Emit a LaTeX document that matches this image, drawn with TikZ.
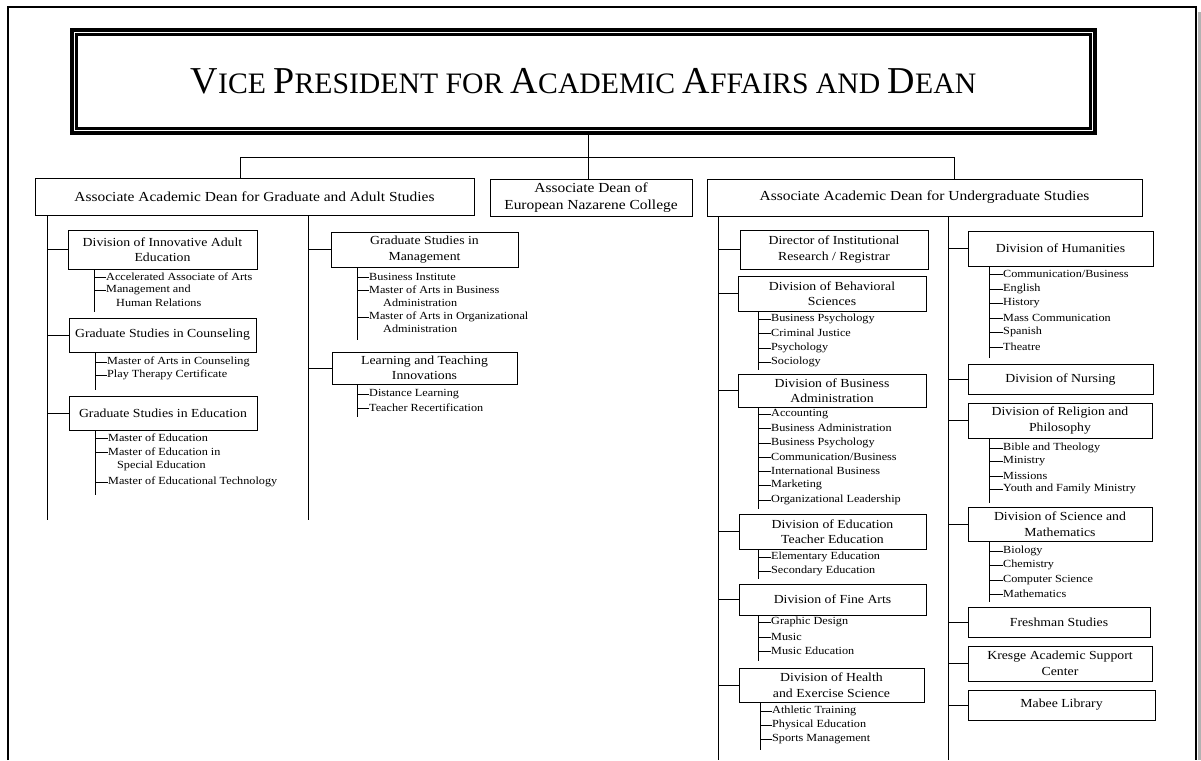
\documentclass[tikz,border=0pt]{standalone}
\usepackage{fontspec}
\setmainfont{Liberation Serif}[FakeStretch=1.12]
\newfontfamily\titlefont{Liberation Serif}
\newcommand\tcap[2]{{\fontsize{38}{38}\selectfont #1}{\fontsize{29.7}{30}\selectfont #2}}
\newcommand\putitem[4]{\node[itm] (#1) at (#2) {#3}; \draw[ln] (#1.west) -- (#1.west -| #4);}
\begin{document}
\begin{tikzpicture}[x=1pt,y=-1pt,
  box/.style={draw, line width=1pt, inner sep=0pt, align=center},
  toptwo/.style={box, font=\fontsize{13.8}{17}\selectfont},
  dv/.style={box, font=\fontsize{12.3}{15.5}\selectfont},
  itm/.style={anchor=west, inner sep=0pt, font=\fontsize{10.9}{12}\selectfont},
  ln/.style={line width=0.9pt}]
\useasboundingbox (0,0) rectangle (1201,760);
% page frame
\draw[line width=1.5pt] (8,760) -- (8,7) -- (1196,7) -- (1196,760);
\fill[gray!60] (1197.5,12) rectangle (1201,760);
% title
\node[draw, line width=4pt, minimum width=1023pt, minimum height=103pt, inner sep=0pt] (vp) at (583.5,81.5)
  {\titlefont\fontsize{29.7}{30}\selectfont \tcap{V}{ICE} \tcap{P}{RESIDENT} FOR \tcap{A}{CADEMIC} \tcap{A}{FFAIRS} AND \tcap{D}{EAN}};
\draw[line width=2.8pt] ([xshift=6.5pt,yshift=-6.5pt]vp.north west) rectangle ([xshift=-6.5pt,yshift=6.5pt]vp.south east);
% level two
\node[toptwo, minimum width=439pt, minimum height=37pt] (ga) at (254.5,196.5) {Associate Academic Dean for Graduate and Adult Studies};
\node[toptwo, minimum width=202pt, minimum height=37pt] (eu) at (591,197.5) {Associate Dean of\\European Nazarene College};
\node[toptwo, minimum width=435pt, minimum height=37pt] (ug) at (924.5,197.5) {Associate Academic Dean for Undergraduate Studies};
\coordinate (hub) at (588,157);
\coordinate (jl) at (240,157);
\coordinate (jr) at (954,157);
\draw[ln] (vp.south -| hub) -- (hub |- eu.north);
\draw[ln] (jl) -- (jr);
\draw[ln] (jl) -- (jl |- ga.north);
\draw[ln] (jr) -- (jr |- ug.north);
% trunks
\coordinate (ta) at (47,520);
\coordinate (tb) at (308,520);
\coordinate (tc) at (718,760);
\coordinate (td) at (948,760);
\draw[ln] (ga.south -| ta) -- (ta);
\draw[ln] (ga.south -| tb) -- (tb);
\draw[ln] (ug.south -| tc) -- (tc);
\draw[ln] (ug.south -| td) -- (td);
% ---- left column
\node[dv, minimum width=189pt, minimum height=39pt] (d1) at (162.5,249.5) {Division of Innovative Adult\\Education};
\node[dv, minimum width=187pt, minimum height=34pt] (d2) at (162.5,335) {Graduate Studies in Counseling};
\node[dv, minimum width=188pt, minimum height=34pt] (d3) at (163,413) {Graduate Studies in Education};
\foreach \n in {d1,d2,d3} \draw[ln] (\n.west -| ta) -- (\n.west);
\coordinate (sa) at (94,312);
\coordinate (sb) at (95,390);
\coordinate (sc) at (95,495);
\draw[ln] (d1.south -| sa) -- (sa);
\draw[ln] (d2.south -| sb) -- (sb);
\draw[ln] (d3.south -| sc) -- (sc);
\putitem{a1}{106,277}{Accelerated Associate of Arts}{sa}
\putitem{a2}{106,290}{Management and}{sa}
\node[itm] (a2b) at (116,303) {Human Relations};
\putitem{b1}{107,362}{Master of Arts in Counseling}{sb}
\putitem{b2}{107,375}{Play Therapy Certificate}{sb}
\putitem{c1}{108,438}{Master of Education}{sc}
\putitem{c2}{108,452}{Master of Education in}{sc}
\node[itm] (c2b) at (117,466) {Special Education};
\putitem{c3}{108,482}{Master of Educational Technology}{sc}
% ---- middle-left column
\node[dv, minimum width=187pt, minimum height=35pt] (m1) at (424.5,249.5) {Graduate Studies in\\Management};
\node[dv, minimum width=185pt, minimum height=32pt] (m2) at (424.5,368) {Learning and Teaching\\Innovations};
\foreach \n in {m1,m2} \draw[ln] (\n.west -| tb) -- (\n.west);
\coordinate (se) at (357,340);
\coordinate (sf) at (357,417);
\draw[ln] (m1.south -| se) -- (se);
\draw[ln] (m2.south -| sf) -- (sf);
\putitem{e1}{369,277}{Business Institute}{se}
\putitem{e2}{369,290}{Master of Arts in Business}{se}
\node[itm] (e2b) at (383,303) {Administration};
\putitem{e3}{369,317}{Master of Arts in Organizational}{se}
\node[itm] (e3b) at (383,329) {Administration};
\putitem{f1}{369,394}{Distance Learning}{sf}
\putitem{f2}{369,408}{Teacher Recertification}{sf}
% ---- right-left column
\node[dv, minimum width=188pt, minimum height=39pt] (r1) at (834,249.5) {Director of Institutional\\Research / Registrar};
\node[dv, minimum width=188pt, minimum height=35pt] (r2) at (832,293.5) {Division of Behavioral\\Sciences};
\node[dv, minimum width=188pt, minimum height=33pt] (r3) at (832,390.5) {Division of Business\\Administration};
\node[dv, minimum width=187pt, minimum height=35pt] (r4) at (832.5,531.5) {Division of Education\\Teacher Education};
\node[dv, minimum width=187pt, minimum height=31pt] (r5) at (832.5,599.5) {Division of Fine Arts};
\node[dv, minimum width=185pt, minimum height=34pt] (r6) at (831.5,685) {Division of Health\\and Exercise Science};
\foreach \n in {r1,r2,r3,r4,r5,r6} \draw[ln] (\n.west -| tc) -- (\n.west);
\coordinate (sg) at (758,370);
\coordinate (sh) at (758,509);
\coordinate (sk) at (758,579);
\coordinate (sl) at (758,661);
\coordinate (sm) at (760,750);
\draw[ln] (r2.south -| sg) -- (sg);
\draw[ln] (r3.south -| sh) -- (sh);
\draw[ln] (r4.south -| sk) -- (sk);
\draw[ln] (r5.south -| sl) -- (sl);
\draw[ln] (r6.south -| sm) -- (sm);
\putitem{g1}{771,319}{Business Psychology}{sg}
\putitem{g2}{771,333}{Criminal Justice}{sg}
\putitem{g3}{771,348}{Psychology}{sg}
\putitem{g4}{771,362}{Sociology}{sg}
\putitem{h1}{771,414}{Accounting}{sh}
\putitem{h2}{771,428}{Business Administration}{sh}
\putitem{h3}{771,443}{Business Psychology}{sh}
\putitem{h4}{771,457}{Communication/Business}{sh}
\putitem{h5}{771,471}{International Business}{sh}
\putitem{h6}{771,485}{Marketing}{sh}
\putitem{h7}{771,500}{Organizational Leadership}{sh}
\putitem{k1}{771,557}{Elementary Education}{sk}
\putitem{k2}{771,571}{Secondary Education}{sk}
\putitem{l1}{771,622}{Graphic Design}{sl}
\putitem{l2}{771,637}{Music}{sl}
\putitem{l3}{771,651}{Music Education}{sl}
\putitem{o1}{772,711}{Athletic Training}{sm}
\putitem{o2}{772,725}{Physical Education}{sm}
\putitem{o3}{772,739}{Sports Management}{sm}
% ---- right-right column
\node[dv, minimum width=185pt, minimum height=35pt] (s1) at (1060.5,248.5) {Division of Humanities};
\node[dv, minimum width=185pt, minimum height=30pt] (s2) at (1060.5,379) {Division of Nursing};
\node[dv, minimum width=184pt, minimum height=35pt] (s3) at (1060,420.5) {Division of Religion and\\Philosophy};
\node[dv, minimum width=184pt, minimum height=34pt] (s4) at (1060,524) {Division of Science and\\Mathematics};
\node[dv, minimum width=182pt, minimum height=30pt] (s5) at (1059,622) {Freshman Studies};
\node[dv, minimum width=184pt, minimum height=35pt] (s6) at (1060,663.5) {Kresge Academic Support\\Center};
\node[dv, minimum width=187pt, minimum height=30pt] (s7) at (1061.5,705) {Mabee Library};
\foreach \n in {s1,s2,s3,s4,s5,s6,s7} \draw[ln] (\n.west -| td) -- (\n.west);
\coordinate (sn) at (989,358);
\coordinate (sp) at (989,503);
\coordinate (sq) at (989,602);
\draw[ln] (s1.south -| sn) -- (sn);
\draw[ln] (s3.south -| sp) -- (sp);
\draw[ln] (s4.south -| sq) -- (sq);
\putitem{n1}{1003,274}{Communication/Business}{sn}
\putitem{n2}{1003,289}{English}{sn}
\putitem{n3}{1003,303}{History}{sn}
\putitem{n4}{1003,318}{Mass Communication}{sn}
\putitem{n5}{1003,332}{Spanish}{sn}
\putitem{n6}{1003,347}{Theatre}{sn}
\putitem{p1}{1003,448}{Bible and Theology}{sp}
\putitem{p2}{1003,461}{Ministry}{sp}
\putitem{p3}{1003,476}{Missions}{sp}
\putitem{p4}{1003,489}{Youth and Family Ministry}{sp}
\putitem{q1}{1003,551}{Biology}{sq}
\putitem{q2}{1003,565}{Chemistry}{sq}
\putitem{q3}{1003,580}{Computer Science}{sq}
\putitem{q4}{1003,594}{Mathematics}{sq}
\end{tikzpicture}
\end{document}
